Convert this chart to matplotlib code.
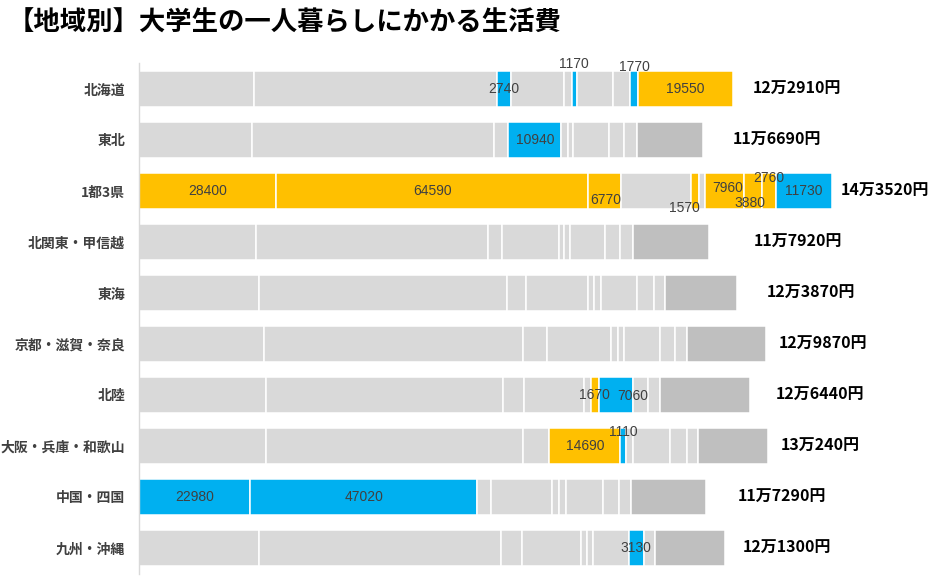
import numpy as np
import matplotlib.pyplot as plt

plt.rcParams['font.family'] = ['Noto Sans CJK JP', 'DejaVu Sans']

title = '【地域別】大学生の一人暮らしにかかる生活費'

regions = ['北海道', '東北', '1都3県', '北関東・甲信越', '東海',
           '京都・滋賀・奈良', '北陸', '大阪・兵庫・和歌山', '中国・四国', '九州・沖縄']

# monthly cost items per region (yen), stacked left to right
hokkaido = [23900, 50300, 2740, 11100, 1500, 1170, 7300, 3580, 1770, 19550]
tohoku = [23320, 50130, 3010, 10940, 1310, 1200, 7360, 3210, 2530, 13680]
shuto = [28400, 64590, 6770, 14500, 1570, 1360, 7960, 3880, 2760, 11730]
kitakanto = [24250, 47950, 2990, 11670, 1180, 1200, 7150, 3200, 2690, 15640]
tokai = [24880, 51270, 3880, 13000, 1160, 1390, 7460, 3520, 2220, 15090]
kyoto = [25770, 53670, 5040, 13270, 1390, 1200, 7420, 3210, 2380, 16520]
hokuriku = [26330, 49030, 4350, 12330, 1450, 1670, 7060, 3210, 2490, 18520]
osaka = [26330, 53240, 5370, 14690, 1110, 1410, 7820, 3420, 2320, 14530]
chugoku = [22980, 47020, 2900, 12610, 1450, 1390, 7770, 3320, 2490, 15360]
kyushu = [24810, 50020, 4390, 12190, 1290, 1310, 7360, 3130, 2280, 14520]

costs = np.array([hokkaido, tohoku, shuto, kitakanto, tokai,
                  kyoto, hokuriku, osaka, chugoku, kyushu])

HIGH = '#FFC000'   # highest region for that item
LOW = '#00B0F0'    # lowest region for that item
GRAY = '#D9D9D9'
OTHER_GRAY = '#BFBFBF'

# hand placed data labels (pixel nudges, like the moved excel labels)
label_nudge = {
    (0, 5): (-1, 25), (0, 8): (0, 22),
    (2, 2): (1, -9), (2, 4): (-10, -17), (2, 6): (3, 3),
    (2, 7): (-3, -12), (2, 8): (0, 13),
    (6, 6): (17, -1), (7, 4): (0, 14),
}
total_gap = [20, 30, 8, 45, 29, 12, 26, 13, 32, 18]

fig = plt.figure(figsize=(9.34, 5.84), dpi=100)
ax = fig.add_axes([139 / 934, 10.5 / 584, 773 / 934, 510 / 584])

n_rows, n_items = costs.shape
col_max = costs.max(axis=0)
col_min = costs.min(axis=0)
lefts = np.cumsum(costs, axis=1) - costs

for j in range(n_items):
    colors = []
    for i in range(n_rows):
        v = costs[i, j]
        if v == col_max[j]:
            colors.append(HIGH)
        elif v == col_min[j]:
            colors.append(LOW)
        else:
            colors.append(OTHER_GRAY if j == n_items - 1 else GRAY)
    ax.barh(np.arange(n_rows), costs[:, j], left=lefts[:, j], height=0.70,
            color=colors, edgecolor='white', linewidth=1.1)
    for i in range(n_rows):
        v = costs[i, j]
        if v == col_max[j] or v == col_min[j]:
            ax.annotate(str(v), (lefts[i, j] + v / 2, i),
                        xytext=label_nudge.get((i, j), (0, 0)),
                        textcoords='offset pixels', ha='center', va='center',
                        fontsize=10, color='#404040', family='Liberation Sans')

totals = costs.sum(axis=1)
for i, t in enumerate(totals):
    ax.annotate(f'{t // 10000}万{t % 10000}円', (t, i), xytext=(total_gap[i], 0),
                textcoords='offset pixels', ha='left', va='center',
                fontsize=11.5, fontweight='bold', color='black')

ax.set_xlim(0, 160000)
ax.set_ylim(n_rows - 0.5, -0.5)
ax.set_yticks(np.arange(n_rows))
ax.set_yticklabels(regions, fontsize=10, fontweight='bold', color='#404040')
ax.set_xticks([])
ax.tick_params(axis='y', length=0, pad=10)
for side in ['top', 'right', 'bottom']:
    ax.spines[side].set_visible(False)
ax.spines['left'].set_color('#D9D9D9')
ax.spines['left'].set_linewidth(1.0)

fig.text(8 / 934, 1 - 23 / 584, title, fontsize=19, fontweight='bold',
         va='center', ha='left', color='black')

fig.savefig('out.png', dpi=100)
